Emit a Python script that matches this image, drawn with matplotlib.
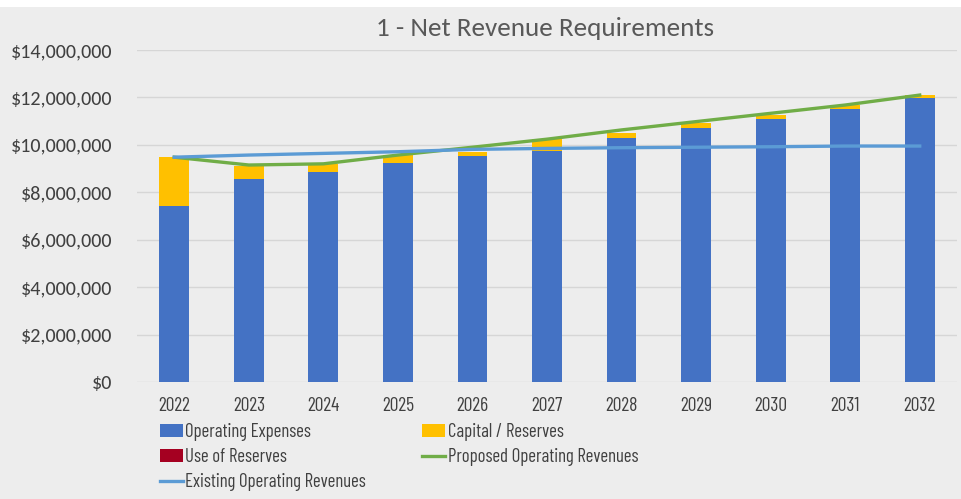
import matplotlib.pyplot as plt
import numpy as np
from matplotlib.ticker import FuncFormatter
from matplotlib import font_manager

installed = {f.name for f in font_manager.fontManager.ttflist}


def pick(options):
    for name in options:
        if name in installed:
            return name
    return 'DejaVu Sans'


main_font = pick(['Carlito', 'Lato', 'Open Sans'])
narrow_font = pick(['Barlow Condensed', 'Roboto Condensed', 'Asap Condensed', 'Archivo Narrow'])
plt.rcParams['font.family'] = [main_font, 'DejaVu Sans']

years = ['2022', '2023', '2024', '2025', '2026', '2027', '2028', '2029', '2030', '2031', '2032']
operating_expenses = [7.42e6, 8.55e6, 8.86e6, 9.22e6, 9.55e6, 9.74e6, 10.28e6, 10.73e6, 11.08e6, 11.51e6, 11.97e6]
capital_reserves = [2.06e6, 0.56e6, 0.33e6, 0.35e6, 0.16e6, 0.50e6, 0.21e6, 0.18e6, 0.18e6, 0.17e6, 0.13e6]
use_of_reserves = [0, 0, 0, 0, 0, 0, 0, 0, 0, 0, 0]
proposed_revenues = [9.48e6, 9.15e6, 9.20e6, 9.57e6, 9.90e6, 10.24e6, 10.63e6, 10.98e6, 11.33e6, 11.68e6, 12.10e6]
existing_revenues = [9.48e6, 9.57e6, 9.64e6, 9.71e6, 9.81e6, 9.85e6, 9.88e6, 9.90e6, 9.92e6, 9.95e6, 9.95e6]

bg = '#ededed'
fig = plt.figure(figsize=(9.62, 4.99), dpi=100, facecolor='white')
# gray chart area with thin white margin at top
fig.patches.append(plt.Rectangle((0, 0), 1, 1 - 7 / 499, transform=fig.transFigure,
                                 facecolor=bg, edgecolor='none', zorder=-10))
ax = fig.add_axes([137 / 962, 1 - 382 / 499, 820 / 962, 332 / 499])
ax.set_facecolor(bg)

x = np.arange(len(years))
w = 0.4
b1 = ax.bar(x, operating_expenses, w, color='#4472c4', zorder=2)
b2 = ax.bar(x, capital_reserves, w, bottom=operating_expenses, color='#ffc000', zorder=2)
tops = np.array(operating_expenses) + np.array(capital_reserves)
b3 = ax.bar(x, use_of_reserves, w, bottom=tops, color='#a50021', zorder=2)
l1, = ax.plot(x, proposed_revenues, color='#70ad47', lw=2.4, zorder=3)
l2, = ax.plot(x, existing_revenues, color='#5b9bd5', lw=2.4, zorder=3)

ax.set_xlim(-0.5, len(years) - 0.5)
ax.set_ylim(0, 14e6)
ax.set_yticks(np.arange(0, 14e6 + 1, 2e6))
ax.yaxis.set_major_formatter(FuncFormatter(lambda v, p: '${:,.0f}'.format(v)))
ax.set_xticks(x)
ax.set_xticklabels(years, family=[narrow_font, 'DejaVu Sans'], fontsize=14)
ax.tick_params(length=0, labelcolor='#404040')
ax.tick_params(axis='y', pad=18, labelsize=14.5)
ax.tick_params(axis='x', pad=11)
ax.grid(axis='y', color='#d6d6d6', lw=1, zorder=0)
for s in ax.spines.values():
    s.set_visible(False)

fig.text(545 / 962, 1 - 28 / 499, '1 - Net Revenue Requirements', ha='center', va='center',
         fontsize=19.5, color='#595959')

leg = fig.legend([b1, b3, l2, b2, l1],
                 ['Operating Expenses', 'Use of Reserves', 'Existing Operating Revenues',
                  'Capital / Reserves', 'Proposed Operating Revenues'],
                 ncol=2, loc='upper left', bbox_to_anchor=(160 / 962, 1 - 423 / 499),
                 frameon=False, prop={'family': [narrow_font, 'DejaVu Sans'], 'size': 13.5},
                 labelcolor='#404040',
                 handlelength=1.2, handletextpad=0.15, columnspacing=3.0,
                 labelspacing=0.38, borderpad=0, borderaxespad=0)

fig.savefig('out.png', dpi=100, facecolor='white')
